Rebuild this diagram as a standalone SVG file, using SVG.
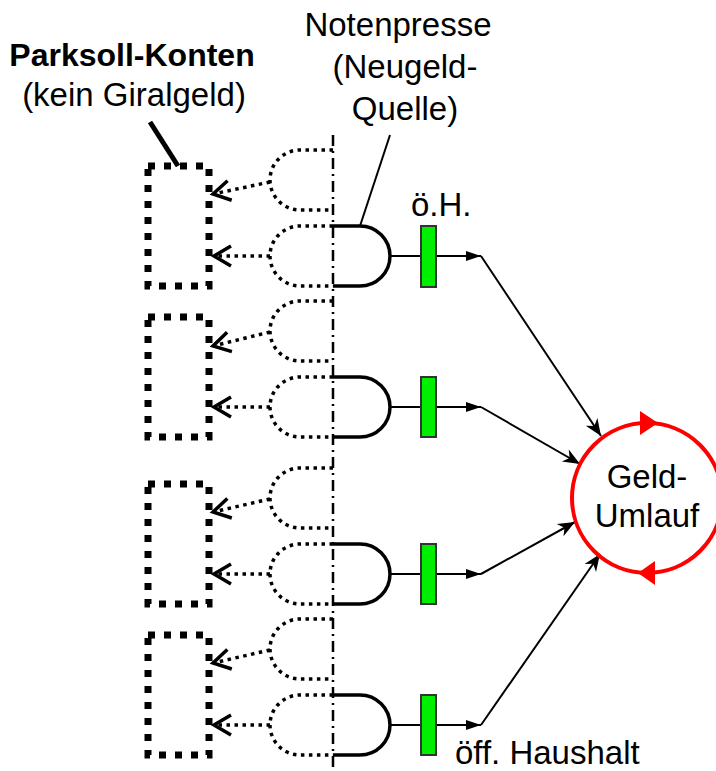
<svg xmlns="http://www.w3.org/2000/svg" width="716" height="771" viewBox="0 0 716 771">
<style>
text{font-family:"Liberation Sans",Arial,sans-serif;font-size:33px;fill:#000}
.b{font-weight:bold;font-size:32px}
.park{fill:none;stroke:#000;stroke-width:7;stroke-dasharray:7 9}
.dd{fill:none;stroke:#000;stroke-width:3.5;stroke-dasharray:3.5 4.5}
.gate{fill:none;stroke:#000;stroke-width:3.5}
.axis{fill:none;stroke:#000;stroke-width:2.5;stroke-dasharray:11 5 2 5}
.green{fill:#00ee00;stroke:#333;stroke-width:2}
.ln{fill:none;stroke:#000;stroke-width:2}
.dar{fill:none;stroke:#000;stroke-width:3.5;stroke-dasharray:3.5 4.5;marker-end:url(#mo)}
</style>
<defs>
<marker id="mo" markerUnits="userSpaceOnUse" viewBox="-25 -20 40 40" markerWidth="40" markerHeight="40" refX="0" refY="0" orient="auto" overflow="visible">
<path d="M-17,-10 L0,0 L-17,10" fill="none" stroke="#000" stroke-width="3.5" stroke-dasharray="none"/>
</marker>
<marker id="mf" markerUnits="userSpaceOnUse" viewBox="-25 -20 40 40" markerWidth="40" markerHeight="40" refX="0" refY="0" orient="auto" overflow="visible">
<path d="M-15,-5 L0,0 L-15,5 Z" fill="#000"/>
</marker>
<marker id="mb" markerUnits="userSpaceOnUse" viewBox="-25 -20 40 40" markerWidth="40" markerHeight="40" refX="0" refY="0" orient="auto" overflow="visible">
<path d="M0,0 L-17,-7 L-12,0 L-17,7 Z" fill="#000"/>
</marker>
</defs>

<g id="connectors">
<line x1="150" y1="122" x2="178" y2="166" stroke="#000" stroke-width="5"/>
<line class="ln" x1="390" y1="135" x2="360" y2="226" stroke-width="2.5"/>
<path class="dar" d="M270,182 L213,194"/>
<path class="dar" d="M270,256 L214,256"/>
<path class="dar" d="M270,332 L213,346"/>
<path class="dar" d="M270,407 L214,407"/>
<path class="dar" d="M270,499 L213,512"/>
<path class="dar" d="M270,574 L214,574"/>
<path class="dar" d="M270,650 L213,663"/>
<path class="dar" d="M270,725 L214,725"/>
<path class="ln" d="M390,256 H481" marker-end="url(#mf)"/>
<path class="ln" d="M390,407 H481" marker-end="url(#mf)"/>
<path class="ln" d="M390,574 H481" marker-end="url(#mf)"/>
<path class="ln" d="M390,725 H481" marker-end="url(#mf)"/>
<path class="ln" d="M481,256 L601,436" marker-end="url(#mb)"/>
<path class="ln" d="M481,407 L580,464" marker-end="url(#mb)"/>
<path class="ln" d="M481,574 L575,522" marker-end="url(#mb)"/>
<path class="ln" d="M481,725 L600,554" marker-end="url(#mb)"/>
</g>

<g id="labels">
<text class="b" x="132" y="66" text-anchor="middle">Parksoll-Konten</text>
<text x="134" y="106" text-anchor="middle">(kein Giralgeld)</text>
<text x="398" y="36" text-anchor="middle">Notenpresse</text>
<text x="405" y="78" text-anchor="middle">(Neugeld-</text>
<text x="405" y="120" text-anchor="middle">Quelle)</text>
<text x="411" y="216">ö.H.</text>
<text x="455" y="764">öff. Haushalt</text>
</g>

<g id="axis">
<line class="axis" x1="333" y1="135" x2="333" y2="768"/>
</g>

<g id="block1">
<rect class="park" x="148" y="166" width="61" height="120"/>
<path class="dd" d="M333,150 H300 A30,30 0 0 0 300,210 H333"/>
<path class="dd" d="M333,226 H300 A30,30 0 0 0 300,286 H333"/>
<path class="gate" d="M333,226 H360 A30,30 0 0 1 360,286 H333"/>
<rect class="green" x="421" y="226" width="15" height="61"/>
</g>
<g id="block2">
<rect class="park" x="148" y="317" width="61" height="120"/>
<path class="dd" d="M333,301 H300 A30,30 0 0 0 300,361 H333"/>
<path class="dd" d="M333,377 H300 A30,30 0 0 0 300,437 H333"/>
<path class="gate" d="M333,377 H360 A30,30 0 0 1 360,437 H333"/>
<rect class="green" x="421" y="377" width="15" height="60"/>
</g>
<g id="block3">
<rect class="park" x="148" y="484" width="61" height="120"/>
<path class="dd" d="M333,468 H300 A30,30 0 0 0 300,528 H333"/>
<path class="dd" d="M333,544 H300 A30,30 0 0 0 300,604 H333"/>
<path class="gate" d="M333,544 H360 A30,30 0 0 1 360,604 H333"/>
<rect class="green" x="421" y="544" width="15" height="60"/>
</g>
<g id="block4">
<rect class="park" x="148" y="635" width="61" height="120"/>
<path class="dd" d="M333,619 H300 A30,30 0 0 0 300,679 H333"/>
<path class="dd" d="M333,695 H300 A30,30 0 0 0 300,755 H333"/>
<path class="gate" d="M333,695 H360 A30,30 0 0 1 360,755 H333"/>
<rect class="green" x="421" y="695" width="15" height="60"/>
</g>

<g id="geldumlauf">
<circle cx="647" cy="498" r="75" fill="none" stroke="#ff0000" stroke-width="4"/>
<path d="M640,411 L658,423 L640,435 Z" fill="#ff0000"/>
<path d="M655,561 L638,573 L655,585 Z" fill="#ff0000"/>
<text x="647" y="488" text-anchor="middle">Geld-</text>
<text x="647" y="527" text-anchor="middle">Umlauf</text>
</g>
</svg>
